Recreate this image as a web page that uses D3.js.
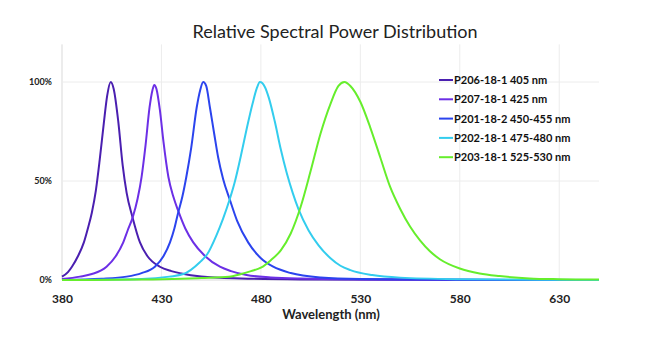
<!DOCTYPE html>
<html>
<head>
<meta charset="utf-8">
<script src="https://cdn.jsdelivr.net/npm/d3@7"></script>
<style>
  body { margin: 0; background: #fff; }
  svg { display: block; }
</style>
</head>
<body>
<div id="chart"></div>
<script>
// spectra as [wavelength nm, relative power]
var p206 = [[380,0.017],[383,0.04],[385,0.067],[388,0.12],[391,0.19],[393,0.26],[395,0.34],[397,0.45],[399,0.61],[401,0.79],[402.7,0.93],[404.5,1.0],[406,0.965],[408.3,0.8],[410.5,0.58],[412.5,0.44],[415.5,0.315],[419.2,0.19],[423,0.12],[429.2,0.067],[435,0.045],[440,0.033],[450,0.018],[470,0.008],[500,0.003],[550,0.001],[650,0]];
var p207 = [[380,0.005],[389,0.017],[395,0.03],[402.4,0.067],[407,0.12],[410.8,0.19],[413,0.25],[415.5,0.315],[418,0.41],[420,0.52],[422,0.68],[424,0.87],[425.5,0.96],[426.4,0.985],[427.5,0.965],[429.2,0.86],[431,0.7],[433.5,0.52],[436,0.42],[438.4,0.35],[442,0.26],[446,0.19],[452,0.12],[459.4,0.067],[465,0.045],[472.8,0.025],[485,0.013],[500,0.007],[530,0.003],[580,0.001],[650,0]];
var p201 = [[380,0],[400,0.006],[412.5,0.017],[420,0.035],[426.7,0.067],[431,0.12],[434.3,0.19],[436.5,0.26],[438.4,0.34],[440.5,0.42],[442.5,0.52],[445,0.67],[447.7,0.87],[449.5,0.96],[451,1.0],[452.5,0.98],[454.4,0.87],[456.5,0.74],[458.5,0.62],[461,0.51],[464.4,0.405],[468,0.3],[473.6,0.19],[480,0.11],[486.2,0.067],[495,0.035],[510,0.013],[530,0.005],[580,0.001],[650,0]];
var p202 = [[380,0],[420,0.005],[434,0.017],[441,0.03],[449.3,0.09],[453,0.13],[457.7,0.227],[461,0.31],[464.4,0.41],[467,0.5],[470,0.63],[473,0.77],[475.8,0.89],[478,0.97],[479.5,1.0],[482,0.975],[484,0.92],[487,0.8],[490,0.66],[493,0.54],[496,0.44],[499,0.355],[504,0.25],[509,0.175],[515,0.11],[520,0.072],[525,0.05],[536,0.025],[550,0.012],[580,0.004],[620,0.001],[650,0]];
var p203 = [[380,0],[420,0.002],[440,0.006],[450,0.01],[464,0.017],[470,0.03],[475,0.045],[480,0.062],[485,0.1],[490,0.15],[495,0.235],[500,0.37],[505,0.55],[510,0.74],[515,0.89],[519,0.98],[522,1.0],[525,0.98],[530,0.9],[535,0.77],[540,0.62],[545,0.47],[550,0.36],[555,0.27],[560,0.2],[565,0.145],[570,0.105],[580,0.058],[590,0.033],[600,0.02],[615,0.008],[630,0.004],[650,0.002]];

var seriesNames = ["P206-18-1 405 nm", "P207-18-1 425 nm", "P201-18-2 450-455 nm", "P202-18-1 475-480 nm", "P203-18-1 525-530 nm"];
var seriesData = [p206, p207, p201, p202, p203];
var seriesColors = ["#4a1fb0", "#6c2fe6", "#2b44ee", "#33cdee", "#66ee2c"];

var xTicks = [380, 430, 480, 530, 580, 630];
var yTicks = [0, 0.5, 1];

var width = 658, height = 338;
var svg = d3.select("#chart").append("svg")
    .attr("width", width)
    .attr("height", height);

var x = d3.scaleLinear().domain([380, 650]).range([62, 599]);
var y = d3.scaleLinear().domain([0, 1]).range([280, 82]);

// gridlines
var grid = svg.append("g");
grid.selectAll(".vgrid")
    .data(xTicks)
    .enter()
    .append("line")
    .attr("x1", d => x(d)).attr("x2", d => x(d))
    .attr("y1", y(1.19)).attr("y2", y(0))
    .style("stroke", d => d == 380 ? "#d9d9d9" : "#ececec")
    .style("stroke-width", 1);
grid.selectAll(".hgrid")
    .data(yTicks)
    .enter()
    .append("line")
    .attr("x1", x(380)).attr("x2", x(650))
    .attr("y1", d => y(d)).attr("y2", d => y(d))
    .style("stroke", d => d == 0 ? "#d9d9d9" : "#ececec")
    .style("stroke-width", 1);

// axes
var xAxis = svg.append("g")
    .attr("transform", "translate(0," + y(0) + ")")
    .call(d3.axisBottom(x).tickValues(xTicks).tickSize(0).tickPadding(14));
xAxis.select(".domain").remove();
xAxis.selectAll("text")
    .style("font-family", "Lato, 'Open Sans', sans-serif")
    .style("font-weight", "bold")
    .style("font-size", "12px")
    .style("fill", "#222");

var yAxis = svg.append("g")
    .attr("transform", "translate(" + x(380) + ",0)")
    .call(d3.axisLeft(y).tickValues(yTicks).tickSize(0).tickPadding(10).tickFormat(d3.format(".0%")));
yAxis.select(".domain").remove();
yAxis.selectAll("text")
    .style("font-family", "Lato, 'Open Sans', sans-serif")
    .style("font-weight", "bold")
    .style("font-size", "9px")
    .style("fill", "#222");

// curves
var line = d3.line()
    .x(d => x(d[0]))
    .y(d => y(d[1]))
    .curve(d3.curveMonotoneX);

svg.append("g")
    .selectAll("path")
    .data(seriesData)
    .enter()
    .append("path")
    .attr("d", line)
    .style("fill", "none")
    .style("stroke", (d, i) => seriesColors[i])
    .style("stroke-width", 2);

// legend
var legend = svg.append("g").attr("transform", "translate(439,80)");
var row = legend.selectAll("g")
    .data(seriesNames)
    .enter()
    .append("g")
    .attr("transform", (d, i) => "translate(0," + i * 19.3 + ")");
row.append("line")
    .attr("x1", 0).attr("x2", 14)
    .attr("y1", 0).attr("y2", 0)
    .style("stroke", (d, i) => seriesColors[i])
    .style("stroke-width", 2);
row.append("text")
    .attr("x", 15)
    .attr("y", 4)
    .style("font-family", "Lato, 'Open Sans', sans-serif")
    .style("font-weight", "bold")
    .style("font-size", "11px")
    .style("fill", "#111")
    .text(d => d);

// titles
svg.append("text")
    .attr("x", 335)
    .attr("y", 38)
    .attr("text-anchor", "middle")
    .style("font-family", "Lato, 'Open Sans', sans-serif")
    .style("font-size", "18px")
    .style("fill", "#222")
    .text("Relative Spectral Power Distribution");

svg.append("text")
    .attr("x", 331)
    .attr("y", 319)
    .attr("text-anchor", "middle")
    .style("font-family", "Lato, 'Open Sans', sans-serif")
    .style("font-weight", "bold")
    .style("font-size", "13px")
    .style("fill", "#222")
    .text("Wavelength (nm)");
</script>
</body>
</html>
